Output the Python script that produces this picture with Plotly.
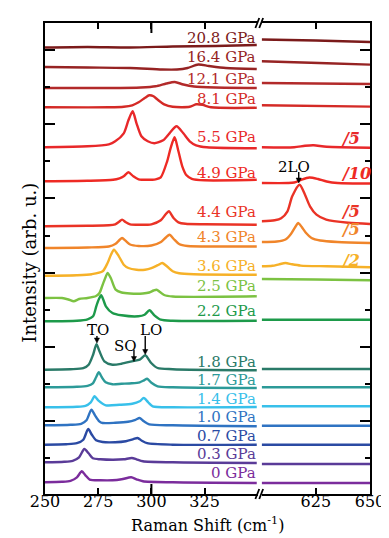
import plotly.graph_objects as go

FONT = "DejaVu Serif"

labels = ["20.8 GPa", "16.4 GPa", "12.1 GPa", "8.1 GPa", "5.5 GPa", "4.9 GPa", "4.4 GPa",
          "4.3 GPa", "3.6 GPa", "2.5 GPa", "2.2 GPa", "1.8 GPa", "1.7 GPa", "1.4 GPa",
          "1.0 GPa", "0.7 GPa", "0.3 GPa", "0 GPa"]
colors = ["#7b1a1a", "#962323", "#b22a2a", "#d42a26", "#e8282a", "#ee2a24", "#ea3326",
          "#f0852a", "#f6b128", "#7cc242", "#1d9a4a", "#2a7a68", "#2c9a98", "#38c0ea",
          "#2f73c2", "#2b4aa3", "#5a3b98", "#7b2c9c"]
left_base = [448.0, 428.5, 407.5, 388.2, 348.2, 314.2, 269.2, 247.5, 219.8, 197.5,
             174.2, 125.8, 108.2, 88.2, 70.2, 50.8, 33.2, 13.2]
right_base = [456.0, 434.2, 412.5, 390.2, 348.2, 312.5, 274.2, 253.5, 229.2, 216.5,
              175.8, 126.5, 108.2, 89.2, 69.8, 50.8, 31.5, 12.5]
# vertical centre of each pressure label (same arbitrary-intensity units)
label_y = [457.5, 438.7, 417.0, 397.0, 358.7, 322.8, 283.5, 258.5, 230.0, 210.0,
           184.5, 133.7, 115.8, 97.0, 78.3, 60.0, 41.7, 22.5]

# ---- left window (250-350 cm-1): Raman shift and intensity above baseline ----
L208_x = [250, 270, 290, 310, 330, 349.5]
L208_y = [0, 0.5, 0, 1, 1.5, 2.5]
L164_x = [250, 270, 290, 305, 312, 317, 322, 327, 335, 349.5]
L164_y = [0, -0.5, -1, -2.5, -2.5, -1, 2.5, 1, -1, -2]
L121_x = [250, 280, 295, 302, 307, 311, 315, 320, 330, 349.5]
L121_y = [0, 0, 0.5, 1.7, 4.5, 6, 3.5, 1.5, 0.5, 0]
L81_x = [250, 280, 287, 291, 294, 297, 299, 301, 303, 306, 310, 318, 321, 324, 328, 349.5]
L81_y = [0, 0, 0.5, 2, 5, 9.5, 12, 11, 7.5, 3, 0.5, 0.5, 3, 2.5, 0, -0.5]
L55_x = [250, 270, 280, 283, 287, 289.2, 291.2, 293, 295.3, 298.3, 301.4, 305.5, 308.5, 311.8,
         315, 318, 321, 326, 349.5]
L55_y = [0, 1, 3, 6, 14, 27, 36, 24, 11, 6, 4, 7, 14, 21, 14, 6, 2, 0, -1]
L49_x = [250, 270, 282, 285, 287, 289.2, 291.5, 294, 298, 302, 304.4, 307.4, 309, 310.9, 312.7,
         314.5, 316.5, 319, 325, 349.5]
L49_y = [0, 0.5, 1.5, 3, 5, 9, 5, 2, 1.5, 2, 4, 20, 33, 44, 30, 15, 6, 2.5, 1, 1.5]
L44_x = [250, 270, 280, 283, 284.8, 286.2, 288, 290, 294, 300, 304.4, 306.7, 308.2, 310.5,
         312.7, 316, 325, 349.5]
L44_y = [0, 0.5, 1, 2, 4.5, 6.7, 4, 2, 1.5, 2, 6, 12, 15, 8, 4, 2.5, 2, 1.5]
L43_x = [250, 270, 280, 283, 285, 286.2, 288, 290, 294, 300, 304.5, 306.8, 308.5, 310.5, 313,
         317, 330, 349.5]
L43_y = [0, 0.5, 1.5, 4, 8, 10, 7, 3.5, 2, 2.5, 6, 10.5, 13.3, 9, 4, 2, 1.5, 1.5]
L36_x = [250, 265, 272, 277.1, 279.4, 281, 282.4, 284.7, 287, 289.2, 293, 297, 300, 303, 305.1,
         307.5, 310, 313, 320, 349.5]
L36_y = [0, 0.5, 1.5, 4.4, 12.7, 21, 26, 19.4, 11, 7.7, 6, 6, 7.5, 10.5, 12.7, 9, 4.5, 2.5, 1.5, 1]
L25_x = [250, 258, 261, 263.5, 266, 270, 274, 275.6, 277.1, 278.5, 279.4, 280.9, 283.2, 286, 290,
         296, 299, 301, 302.4, 304, 306, 310, 349.5]
L25_y = [0, 0, -1.5, -3.3, -1, 0, 2, 5, 13.3, 21, 25, 20, 8.3, 5.5, 4.5, 4.5, 5.5, 7.5, 8.3, 6, 3,
         1.5, 1.7]
L22_x = [250, 265, 270, 272.6, 274.1, 275.3, 276.4, 277.5, 278.6, 281.7, 286, 293.8, 296.8, 299.1,
         301.4, 304.4, 310, 349.5]
L22_y = [0, 0.5, 2, 5, 15, 22, 26, 21, 15, 8.3, 6, 5, 6.6, 11, 6, 1.6, 0.5, 0.5]
L18_x = [250, 262, 268, 270.5, 272.6, 274.2, 275.6, 277.9, 281.7, 286, 290.8, 294.5, 297.1, 299.9,
         302.9, 310, 349.5]
L18_y = [0, 0.5, 1.5, 5, 15, 25.5, 18.4, 8.4, 5, 6, 8.4, 10, 14.4, 6.7, 1.7, 0.5, -0.5]
L17_x = [250, 265, 270, 272.5, 274, 275.3, 276.7, 278.5, 281.7, 286, 290.8, 294.5, 296.5, 298, 300,
         302.9, 310, 349.5]
L17_y = [0, 0.5, 1.5, 4, 10, 15, 10, 5, 3, 3.5, 4, 5, 7, 8.6, 4.5, 1, 0, -0.7]
L14_x = [250, 265, 269, 271.5, 273.3, 275, 278.6, 285, 291, 294.5, 296.4, 298.5, 300.6, 310, 349.5]
L14_y = [0, 0.5, 1.5, 5, 11, 7, 2, 2.5, 3.5, 6, 9.3, 5, 1, 0, 0.3]
L10_x = [250, 262, 267, 269.5, 271.8, 273.5, 275.5, 277.1, 283, 289, 292.5, 294.5, 296.5, 299, 310,
         349.5]
L10_y = [0, 0.5, 1.5, 5, 15.6, 10, 4, 2.3, 2.5, 3.5, 5.5, 7.3, 4, 1, 0, -1]
L07_x = [250, 260, 265, 268, 270.3, 272, 274, 277.1, 283, 288, 291.5, 293.5, 295.5, 298, 310, 349.5]
L07_y = [0, 0.5, 1.5, 5, 15.7, 10, 4.5, 2.7, 2.5, 3.5, 5.5, 6.7, 4, 1.5, 0, 0]
L03_x = [250, 259, 263, 266, 268.5, 270.5, 272.5, 276, 282, 287, 290.8, 293, 296, 310, 349.5]
L03_y = [0, 0.5, 1.5, 5, 13.3, 9, 4, 3, 2.5, 3, 4.3, 3, 1, 0, -0.7]
L00_x = [250, 258, 262, 265, 267.3, 269, 271, 276, 281.7, 286, 290.5, 293, 296, 310, 349.5]
L00_y = [0, 0.5, 1.5, 5, 11, 7, 2.7, 2, 2, 3, 5, 3, 1, 0, -0.7]

# ---- right window (600-650 cm-1) ----
R208_x = [600, 625, 650]
R208_y = [0, -1, -2.5]
R164_x = [600, 615, 630, 650]
R164_y = [0, -1, -2, -3.3]
R121_x = [600, 625, 650]
R121_y = [0, -0.5, -1]
R81_x = [600, 650]
R81_y = [0, -1.3]
R55_x = [600, 615, 620, 624, 630, 650]
R55_y = [0, 0, 1.5, 2, 0.5, -0.5]
R49_x = [600, 612, 615, 618, 622, 626, 630, 635, 650]
R49_y = [0, 0, 0.5, 3, 5.5, 4, 1.5, 0, -0.5]
R44_x = [600, 606, 609, 611.9, 614.1, 617.5, 620, 622.3, 625.3, 629.8, 640, 650]
R44_y = [0, 1, 3, 10, 25, 36.6, 26.6, 15, 6.6, 1.6, -1.5, -2.7]
R43_x = [600, 607, 611, 613.5, 615.5, 616.8, 618.5, 620.5, 623, 627, 635, 650]
R43_y = [0, 0.5, 2.5, 8, 15, 19, 15, 9, 4, 1.5, 0, -1]
R36_x = [600, 605, 608, 611, 614, 618, 630, 650]
R36_y = [0, 0.5, 2, 3.3, 2, 0.7, 0, -1]
R25_x = [600, 625, 650]
R25_y = [0, -0.5, -1.3]
R22_x = [600, 650]
R22_y = [0, 0]
R18_x = [600, 650]
R18_y = [0, 0]
R17_x = [600, 650]
R17_y = [0, 0]
R14_x = [600, 650]
R14_y = [0, 0]
R10_x = [600, 650]
R10_y = [0, 0]
R07_x = [600, 650]
R07_y = [0, 0]
R03_x = [600, 650]
R03_y = [0, 0]
R00_x = [600, 650]
R00_y = [0, 0]

# scale factors applied to the 2LO window
scale_labels = ["/5", "/10", "/5", "/5", "/2"]
scale_index = [4, 5, 6, 7, 8]
scale_y = [356.7, 321.7, 284.2, 265.8, 235.0]

# phonon mode markers: name, axis, Raman shift, arrow tip / tail intensity
mode_names = ["TO", "SO", "LO", "2LO"]
mode_axis = ["x", "x", "x", "x2"]
mode_shift = [274.4, 291.8, 297.1, 617.1]
mode_tip = [152.5, 134.0, 141.0, 312.5]
mode_tail = [159.5, 146.0, 159.5, 323.5]
mode_text_x = [274.9, 287.8, 299.7, 614.7]
mode_text_y = [166.0, 149.2, 166.0, 328.5]

x_ticks_left = [250, 275, 300, 325]
x_ticks_right = [625, 650]

left_x = [L208_x, L164_x, L121_x, L81_x, L55_x, L49_x, L44_x, L43_x, L36_x, L25_x, L22_x,
          L18_x, L17_x, L14_x, L10_x, L07_x, L03_x, L00_x]
left_y = [L208_y, L164_y, L121_y, L81_y, L55_y, L49_y, L44_y, L43_y, L36_y, L25_y, L22_y,
          L18_y, L17_y, L14_y, L10_y, L07_y, L03_y, L00_y]
right_x = [R208_x, R164_x, R121_x, R81_x, R55_x, R49_x, R44_x, R43_x, R36_x, R25_x, R22_x,
           R18_x, R17_x, R14_x, R10_x, R07_x, R03_x, R00_x]
right_y = [R208_y, R164_y, R121_y, R81_y, R55_y, R49_y, R44_y, R43_y, R36_y, R25_y, R22_y,
           R18_y, R17_y, R14_y, R10_y, R07_y, R03_y, R00_y]

fig = go.Figure()
annotations = []
for i, lab in enumerate(labels):
    line = dict(color=colors[i], width=2.4, shape="spline", smoothing=0.7)
    fig.add_trace(go.Scatter(x=left_x[i], y=[left_base[i] + v for v in left_y[i]],
                             mode="lines", line=line, xaxis="x", yaxis="y",
                             showlegend=False, hoverinfo="skip"))
    fig.add_trace(go.Scatter(x=right_x[i], y=[right_base[i] + v for v in right_y[i]],
                             mode="lines", line=line, xaxis="x2", yaxis="y2",
                             showlegend=False, hoverinfo="skip"))
    annotations.append(dict(x=349.5, y=label_y[i], xref="x", yref="y",
                            text=lab, showarrow=False, xanchor="right", yanchor="middle",
                            borderpad=0,
                            font=dict(family=FONT, size=15, color=colors[i])))

for lab, idx, yy in zip(scale_labels, scale_index, scale_y):
    annotations.append(dict(x=636.2, y=yy, xref="x2", yref="y2", text="<b><i>%s</i></b>" % lab,
                            showarrow=False, xanchor="left", yanchor="middle", borderpad=0,
                            font=dict(family=FONT, size=16, color=colors[idx])))

shapes = []
txt = dict(family=FONT, size=15, color="black")
for name, ax, xs, tip, tail, tx, ty in zip(mode_names, mode_axis, mode_shift, mode_tip,
                                           mode_tail, mode_text_x, mode_text_y):
    yref = "y2" if ax == "x2" else "y"
    annotations.append(dict(x=tx, y=ty, xref=ax, yref=yref, text=name, showarrow=False,
                            font=txt, borderpad=0))
    hw = 1.2  # half width of arrow head in cm-1
    shapes.append(dict(type="line", xref=ax, yref=yref, x0=xs, x1=xs, y0=tail, y1=tip + 4,
                       line=dict(color="black", width=1.4)))
    shapes.append(dict(type="path", xref=ax, yref=yref,
                       path="M %f,%f L %f,%f L %f,%f Z" % (xs - hw, tip + 5, xs + hw, tip + 5,
                                                            xs, tip),
                       fillcolor="black", line=dict(color="black", width=0.5)))

# axis titles
annotations += [
    dict(x=0.5, y=-30 / 471, xref="paper", yref="paper", text="Raman Shift (cm<sup>-1</sup>)",
         showarrow=False, xanchor="center", yanchor="middle",
         font=dict(family=FONT, size=16, color="black")),
    dict(x=-16 / 336, y=0.49, xref="paper", yref="paper", text="Intensity (arb. u.)",
         textangle=-90, showarrow=False, xanchor="center", yanchor="middle",
         font=dict(family=FONT, size=18, color="black")),
]

def px(p):
    return (p - 37) / 336.0

def py(p):
    return (486 - p) / 471.0

for yc in (15, 486):
    for x0 in (254.5, 258.5):
        shapes.append(dict(type="line", xref="paper", yref="paper",
                           x0=px(x0), y0=py(yc + 5), x1=px(x0 + 4), y1=py(yc - 5),
                           line=dict(color="black", width=1.8)))
# longer ticks at 300
shapes.append(dict(type="line", xref="x", yref="paper", x0=300, x1=300, y0=0, y1=10 / 471,
                   line=dict(color="black", width=2)))
shapes.append(dict(type="line", xref="x", yref="paper", x0=300, x1=300, y0=1, y1=1 - 10 / 471,
                   line=dict(color="black", width=2)))

tickfont = dict(family=FONT, size=16, color="black")
xcommon = dict(showline=True, linecolor="black", linewidth=2, mirror="ticks", ticks="inside",
               ticklen=6, tickwidth=2, tickcolor="black", tickfont=tickfont, showgrid=False,
               zeroline=False, fixedrange=True, ticklabelstandoff=-8)
ycommon = dict(showline=True, linecolor="black", linewidth=2, ticks="inside", ticklen=10,
               tickwidth=2, tickcolor="black", tick0=74.5, dtick=74.2, showticklabels=False,
               minor=dict(ticks="inside", ticklen=5, tickwidth=2, tickcolor="black",
                          tick0=74.5, dtick=37.1),
               showgrid=False, zeroline=False, range=[1.5, 472.5], domain=[0, 1])

fig.update_layout(
    width=389, height=538, margin=dict(l=37, r=16, t=15, b=52),
    paper_bgcolor="white", plot_bgcolor="white", showlegend=False,
    xaxis=dict(domain=[0, 0.6548], range=[250, 350], tickvals=x_ticks_left,
               ticktext=[str(v) for v in x_ticks_left], anchor="y", **xcommon),
    xaxis2=dict(domain=[0.6667, 1], range=[600, 650], tickvals=x_ticks_right,
                ticktext=[str(v) for v in x_ticks_right], anchor="y2", **xcommon),
    yaxis=dict(anchor="x", side="left", **ycommon),
    yaxis2=dict(anchor="x2", side="right", matches="y", **ycommon),
    annotations=annotations, shapes=shapes,
)

fig.write_html("out.html")
